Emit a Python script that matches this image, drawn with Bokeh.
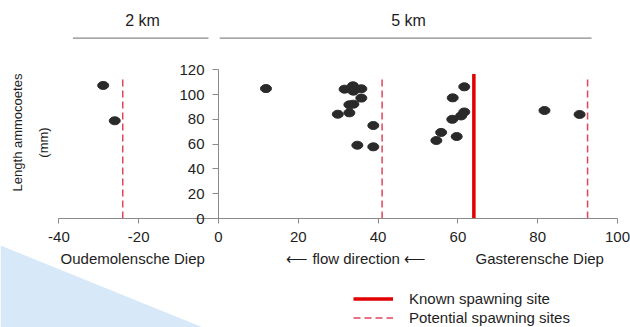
import math
from bokeh.plotting import figure
from bokeh.models import (Range1d, LinearAxis, FixedTicker, Legend, LegendItem)
from bokeh.core.properties import value
from bokeh.embed import file_html
from bokeh.resources import INLINE

# ---------------- data ----------------
dist_km = [-28.9, -26.0, 11.9,
           31.6, 33.7, 33.8, 35.8, 35.8, 32.8, 33.8, 29.9, 32.8, 38.8, 34.8, 38.8,
           61.6, 58.7, 61.6, 60.8, 58.6, 55.8, 54.6, 59.7, 81.7, 90.5]
length_mm = [107.3, 78.8, 104.8,
             104.3, 107.0, 102.7, 104.6, 97.1, 91.7, 92.2, 84.1, 85.2, 75.0, 59.1, 57.8,
             106.2, 97.3, 85.9, 82.7, 80.0, 69.4, 62.9, 66.1, 87.1, 83.9]

known_sites = [64.0]
known_top = [116.5]
potential_sites = [-24.0, 41.0, 92.5]
potential_top = [114.0, 114.0, 114.0]

x_ticks = [-40, -20, 0, 20, 40, 60, 80, 100]
x_tick_labels = ["-40", "-20", "0", "20", "40", "60", "80", "100"]
y_ticks = [0, 20, 40, 60, 80, 100, 120]

scale_labels = ["2 km", "5 km"]
scale_start = [-36.5, 0.3]
scale_end = [-2.5, 93.5]

river_labels = ["Oudemolensche Diep", "\u27f5 flow direction \u27f5", "Gasterensche Diep"]
river_x = [-21.5, 34.5, 80.5]

legend_labels = ["Known spawning site", "Potential spawning sites"]
y_title = ["Length ammocoetes", "(mm)"]

# ---------------- geometry helpers (canvas pixel -> data) ----------------
W, H = 630, 327
X0_PX, XS = 218.0, 3.99      # canvas x of x=0, px per unit
Y0_PX, YS = 218.0, 1.24      # canvas y of y=0, px per mm


def dx(px):
    return (px - X0_PX) / XS


def dy(py):
    return (Y0_PX - py) / YS


FONT = "Liberation Sans"
TXT = "#1e1e1e"
GREY = "#8a8a8a"

p = figure(width=W, height=H,
           x_range=Range1d(dx(0), dx(W)), y_range=Range1d(dy(H), dy(0)),
           output_backend="svg", toolbar_location=None, min_border=0,
           x_axis_location=None, y_axis_location=None)
p.outline_line_color = None
p.grid.visible = False
p.background_fill_color = "white"
p.border_fill_color = "white"

# decorative light-blue corner triangle
p.patch(x=[dx(0), dx(205), dx(0)], y=[dy(245), dy(328), dy(328)],
        fill_color="#d7e8f8", line_color=None)

# axes
xaxis = LinearAxis(fixed_location=0, bounds=(x_ticks[0], x_ticks[-1]),
                   ticker=FixedTicker(ticks=x_ticks),
                   major_label_overrides={t: s for t, s in zip(x_ticks, x_tick_labels)})
yaxis = LinearAxis(fixed_location=0, bounds=(y_ticks[0], y_ticks[-1]),
                   ticker=FixedTicker(ticks=y_ticks))
for ax in (xaxis, yaxis):
    ax.axis_line_color = GREY
    ax.major_tick_line_color = GREY
    ax.minor_tick_line_color = None
    ax.major_tick_in = 0
    ax.major_label_text_font = FONT
    ax.major_label_text_font_size = "15px"
    ax.major_label_text_color = TXT
xaxis.major_tick_out = 5
xaxis.major_label_standoff = 8
yaxis.major_tick_out = 6
yaxis.major_label_standoff = 8
p.add_layout(xaxis, "below")
p.add_layout(yaxis, "left")

# spawning sites
pot = p.segment(x0=potential_sites, y0=[0] * len(potential_sites),
                x1=potential_sites, y1=potential_top,
                line_color="#e0455a", line_width=1.5, line_dash="7 4")
kn = p.segment(x0=known_sites, y0=[0] * len(known_sites),
               x1=known_sites, y1=known_top,
               line_color="#e00000", line_width=3.5)

# data points
p.ellipse(x=dist_km, y=length_mm, width=11, height=8,
          width_units="screen", height_units="screen",
          fill_color="#2a2a2a", line_color="#2a2a2a")

# distance scale bars on top
p.segment(x0=scale_start, y0=[dy(37.7)] * 2, x1=scale_end, y1=[dy(37.7)] * 2,
          line_color=GREY, line_width=1.2)
p.text(x=[dx(142), dx(408)], y=[dy(20)] * 2,
       text=scale_labels, text_align="center", text_baseline="middle",
       text_font=value(FONT), text_font_size=value("16px"), text_color=TXT)

# river labels
p.text(x=river_x, y=[dy(258)] * 3, text=river_labels,
       text_align="center", text_baseline="middle",
       text_font=value(FONT), text_font_size=value("15px"), text_color=TXT)

# y title (two lines, rotated)
p.text(x=[dx(17), dx(43)], y=[dy(132), dy(142)], text=y_title, angle=math.pi / 2,
       text_align="center", text_baseline="middle",
       text_font=value(FONT), text_font_size=value("13px"), text_color=TXT)

legend = Legend(items=[LegendItem(label=legend_labels[0], renderers=[kn]),
                       LegendItem(label=legend_labels[1], renderers=[pot])],
                location=(353, 0), orientation="vertical",
                glyph_width=40, glyph_height=19, label_height=19,
                label_standoff=16, padding=0, margin=0, spacing=0,
                border_line_color=None, background_fill_alpha=0,
                label_text_font=FONT, label_text_font_size="15px",
                label_text_color=TXT)
p.add_layout(legend)

open("out.html", "w").write(file_html(p, INLINE))
